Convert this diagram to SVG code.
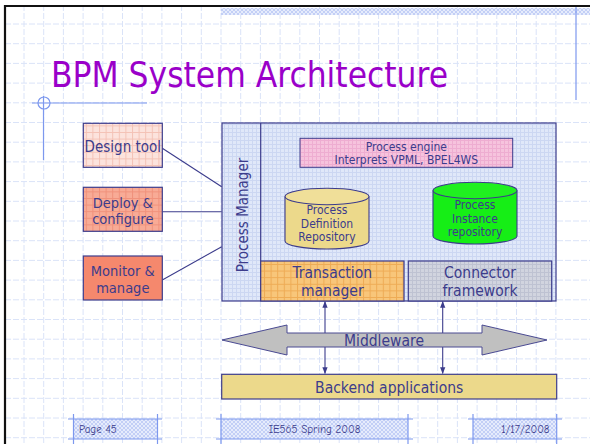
<svg xmlns="http://www.w3.org/2000/svg" width="590" height="444" viewBox="0 0 590 444">
  <style>
    .grid { fill: none; stroke: #dae3f8; stroke-width: 1; stroke-dasharray: 6 2; }
    .t { font-family: "DejaVu Sans Condensed", "Liberation Sans", sans-serif; fill: #3c3c8c; text-anchor: middle; }
    .box { stroke: #3c3c8c; stroke-width: 1.2; }
    .link { fill: none; stroke: #3c3c8c; stroke-width: 1.1; }
    .deco { fill: none; stroke: #7d98ee; stroke-width: 1.2; }
    .foot { font-family: "Comic Neue", "DejaVu Sans", sans-serif; font-size: 11px; fill: #3c3c8c; }
  </style>
  <defs>
    <pattern id="hatch" width="4" height="4" patternUnits="userSpaceOnUse">
      <rect width="4" height="4" fill="#e6ecfc"/>
      <path d="M0 0L4 4M4 0L0 4" stroke="#c3cff6" stroke-width="1"/>
    </pattern>
    <pattern id="pmFill" width="4" height="4" patternUnits="userSpaceOnUse">
      <rect width="4" height="4" fill="#e0e8f9"/>
      <path d="M0 0.5H4M0.5 0V4" stroke="#ccd7f2" stroke-width="1"/>
    </pattern>
    <pattern id="designFill" width="6.6" height="6.6" patternUnits="userSpaceOnUse">
      <rect width="6.6" height="6.6" fill="#fce3dd"/>
      <path d="M0 0.5H6.6M0.5 0V6.6" stroke="#f4c2b6" stroke-width="1"/>
    </pattern>
    <pattern id="deployFill" width="6.6" height="6.6" patternUnits="userSpaceOnUse">
      <rect width="6.6" height="6.6" fill="#f8ab96"/>
      <path d="M0 0.5H6.6M0.5 0V6.6" stroke="#f0917b" stroke-width="1"/>
    </pattern>
    <pattern id="engineFill" width="4" height="4" patternUnits="userSpaceOnUse">
      <rect width="4" height="4" fill="#f6c3dd"/>
      <path d="M0 0.5H4M0.5 0V4" stroke="#eeadd1" stroke-width="1"/>
    </pattern>
    <pattern id="txFill" width="6.6" height="6.6" patternUnits="userSpaceOnUse">
      <rect width="6.6" height="6.6" fill="#f8c67a"/>
      <path d="M0 0.5H6.6M0.5 0V6.6" stroke="#eeab55" stroke-width="1"/>
    </pattern>
    <pattern id="connFill" width="4" height="4" patternUnits="userSpaceOnUse">
      <rect width="4" height="4" fill="#d1d4df"/>
      <path d="M0 0.5H4M0.5 0V4" stroke="#bec2d2" stroke-width="1"/>
    </pattern>
    <marker id="tip" viewBox="0 0 8 8" refX="7.5" refY="4" markerWidth="6" markerHeight="6" orient="auto-start-reverse">
      <path d="M0 0.8L8 4L0 7.2Z" fill="#3c3c8c"/>
    </marker>
  </defs>

  <!-- page -->
  <rect width="590" height="444" fill="#ffffff"/>

  <!-- blueprint grid -->
  <path class="grid" d="M24 5V444M43.7 5V444M63.4 5V444M83.1 5V444M102.8 5V444M122.5 5V444M142.2 5V444M161.9 5V444M181.6 5V444M201.3 5V444M221 5V444M240.7 5V444M260.4 5V444M280.1 5V444M299.8 5V444M319.5 5V444M339.2 5V444M358.9 5V444M378.6 5V444M398.3 5V444M418 5V444M437.7 5V444M457.4 5V444M477.1 5V444M496.8 5V444M516.5 5V444M536.2 5V444M555.9 5V444"/>
  <path class="grid" d="M5 24H590M5 43.7H590M5 63.4H590M5 83.1H590M5 102.8H590M5 122.5H590M5 142.2H590M5 161.9H590M5 181.6H590M5 201.3H590M5 221H590M5 240.7H590M5 260.4H590M5 280.1H590M5 299.8H590M5 319.5H590M5 339.2H590M5 358.9H590M5 378.6H590M5 398.3H590M5 418H590M5 437.7H590"/>

  <!-- page frame and top band -->
  <rect x="221" y="8" width="369" height="7" fill="url(#hatch)"/>
  <path d="M5 444V6H590" fill="none" stroke="#111111" stroke-width="2.2"/>
  <path class="deco" d="M576 7V100"/>
  <path class="deco" d="M32 103H147M43.5 96V160"/>
  <circle cx="44" cy="103" r="6" fill="none" stroke="#7d98ee" stroke-width="1.2"/>

  <!-- title -->
  <text x="51" y="87" font-family="DejaVu Sans Condensed, Liberation Sans, sans-serif" font-size="36" fill="#9a00c9" textLength="397" lengthAdjust="spacingAndGlyphs">BPM System Architecture</text>

  <!-- connectors -->
  <g id="connectors">
    <path class="link" d="M162.3 148.3L221.7 186.7"/>
    <path class="link" d="M162.3 211.7H221.7"/>
    <path class="link" d="M162.3 280L221.7 246.7"/>
    <path class="link" d="M325 301.5V373.5" marker-start="url(#tip)" marker-end="url(#tip)"/>
    <path class="link" d="M442.7 301.5V373.5" marker-start="url(#tip)" marker-end="url(#tip)"/>
  </g>

  <!-- tools -->
  <g id="design-tool">
    <rect class="box" x="83.3" y="123.3" width="79" height="44" fill="url(#designFill)"/>
    <text class="t" x="122.8" y="151.5" font-size="15">Design tool</text>
  </g>
  <g id="deploy-configure">
    <rect class="box" x="83.3" y="187.3" width="79" height="44" fill="url(#deployFill)"/>
    <text class="t" x="122.8" y="207.5" font-size="14.5">Deploy &amp;</text>
    <text class="t" x="122.8" y="224.3" font-size="14.5">configure</text>
  </g>
  <g id="monitor-manage">
    <rect class="box" x="83.3" y="256" width="79" height="44" fill="#f5886d"/>
    <text class="t" x="122.8" y="276" font-size="14.5">Monitor &amp;</text>
    <text class="t" x="122.8" y="292.7" font-size="14.5">manage</text>
  </g>

  <!-- process manager -->
  <g id="process-manager">
    <rect class="box" x="222" y="123" width="334" height="178" fill="url(#pmFill)"/>
    <path class="box" d="M260.7 123V301" fill="none"/>
    <text class="t" transform="translate(248 215) rotate(-90)" font-size="15">Process Manager</text>
  </g>

  <g id="process-engine">
    <rect x="300" y="138.3" width="212.7" height="29" fill="url(#engineFill)" stroke="#3c3c8c" stroke-width="1"/>
    <text class="t" x="406.3" y="150.7" font-size="12">Process engine</text>
    <text class="t" x="406.3" y="164" font-size="12">Interprets VPML, BPEL4WS</text>
  </g>

  <g id="definition-repository">
    <path d="M285 196.5V241A42 8 0 0 0 369 241V196.5" fill="#ecd98b" stroke="#3c3c8c" stroke-width="1.1"/>
    <ellipse cx="327" cy="196.5" rx="42" ry="8.2" fill="#f0df99" stroke="#3c3c8c" stroke-width="1.1"/>
    <text class="t" x="327" y="214" font-size="12">Process</text>
    <text class="t" x="327" y="227.5" font-size="12">Definition</text>
    <text class="t" x="327" y="240.5" font-size="12">Repository</text>
  </g>

  <g id="instance-repository">
    <path d="M433 190.5V236A42 8 0 0 0 517 236V190.5" fill="#16ee16" stroke="#3c3c8c" stroke-width="1.1"/>
    <ellipse cx="475" cy="190.5" rx="42" ry="8.2" fill="#20f020" stroke="#3c3c8c" stroke-width="1.1"/>
    <text class="t" x="475" y="209" font-size="12">Process</text>
    <text class="t" x="475" y="222.5" font-size="12">Instance</text>
    <text class="t" x="475" y="235.5" font-size="12">repository</text>
  </g>

  <g id="transaction-manager">
    <rect class="box" x="260.7" y="261" width="143.3" height="40" fill="url(#txFill)"/>
    <text class="t" x="332.3" y="278.3" font-size="15.5">Transaction</text>
    <text class="t" x="332.3" y="295.5" font-size="15.5">manager</text>
  </g>

  <g id="connector-framework">
    <rect class="box" x="408.3" y="261" width="143.4" height="40" fill="url(#connFill)"/>
    <text class="t" x="480" y="278.3" font-size="15.5">Connector</text>
    <text class="t" x="480" y="295.5" font-size="15.5">framework</text>
  </g>

  <!-- middleware -->
  <g id="middleware">
    <path d="M222 340L287 325V333H482V325L547 340L482 355V347H287V355Z" fill="#c0c0c0" stroke="#4a4a92" stroke-width="1"/>
    <text class="t" x="384" y="346" font-size="15.5">Middleware</text>
  </g>

  <g id="backend-applications">
    <rect class="box" x="221.7" y="374.3" width="335" height="24.7" fill="#ecd98b"/>
    <text class="t" x="389.2" y="392.5" font-size="15.5">Backend applications</text>
  </g>

  <!-- footer -->
  <g id="footer">
    <rect x="73.5" y="419" width="84" height="20" fill="url(#hatch)"/>
    <path class="deco" d="M68 419H162M68 439H162M73.5 414V444M157.5 414V444"/>
    <text class="foot" x="79" y="433">Page 45</text>

    <rect x="221" y="419" width="187" height="20" fill="url(#hatch)"/>
    <path class="deco" d="M216 419H413M216 439H413M221 414V444M408 414V444"/>
    <text class="foot" x="314.5" y="433" text-anchor="middle">IE565 Spring 2008</text>

    <rect x="473" y="419" width="83.7" height="20" fill="url(#hatch)"/>
    <path class="deco" d="M468 419H562M468 439H562M473 414V444M556.7 414V444"/>
    <text class="foot" x="549.5" y="433" text-anchor="end">1/17/2008</text>
  </g>
</svg>
